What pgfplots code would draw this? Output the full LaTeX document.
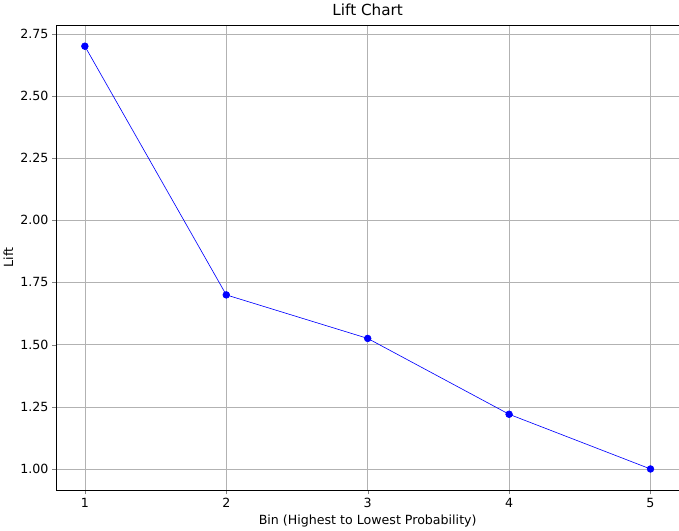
\documentclass[border=0pt]{standalone}
\usepackage{pgfplots}
\pgfplotsset{compat=1.18}
\usepackage{fontspec}
\setmainfont{DejaVu Sans}
\begin{document}
\begin{tikzpicture}
\begin{axis}[
  scale only axis, width=592pt, height=442pt,
  xmin=0.8, xmax=5.2, ymin=0.916, ymax=2.784,
  xtick={1,2,3,4,5},
  ytick={1,1.25,1.5,1.75,2,2.25,2.5,2.75},
  yticklabel style={/pgf/number format/.cd,fixed,fixed zerofill,precision=2},
  /pgf/number format/assume math mode=true,
  ticklabel style={font=\fontsize{12}{14}\selectfont},
  grid=major, grid style={gray!60},
  tick align=outside, tick pos=left,
  xlabel={Bin (Highest to Lowest Probability)},
  ylabel={Lift},
  label style={font=\fontsize{12}{14}\selectfont},
  title={Lift Chart},
  title style={font=\fontsize{14.5}{17}\selectfont},
  axis on top=false,
]
\addplot[gray!60, dashed, thick] coordinates {(0.8,1)(5.2,1)};
\addplot[blue, semithick, mark=*, mark size=3.2pt] coordinates {(1,2.70)(2,1.70)(3,1.525)(4,1.22)(5,1.00)};
\end{axis}
\end{tikzpicture}
\end{document}
